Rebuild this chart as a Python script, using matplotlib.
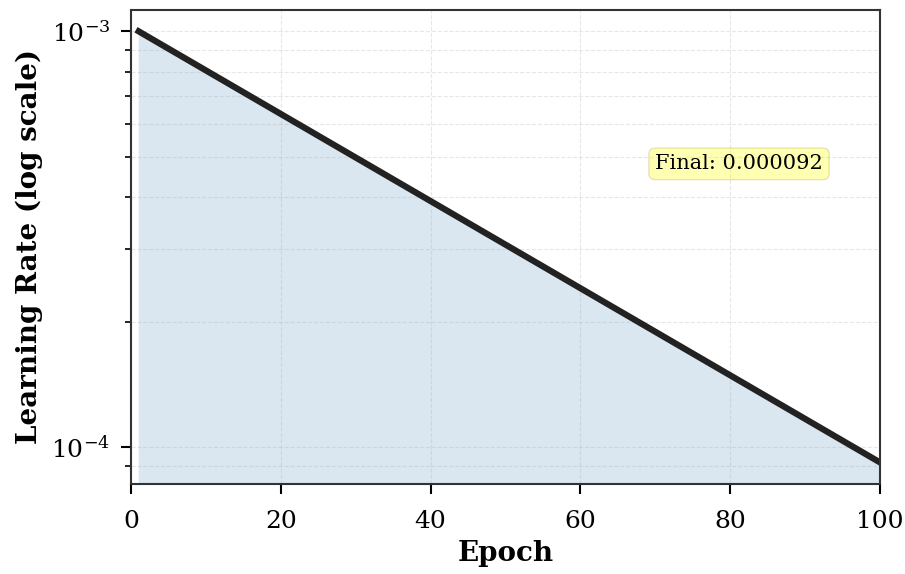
import matplotlib.pyplot as plt

plt.rcParams['font.family'] = 'DejaVu Serif'

epochs = [1, 100]
lr = [1e-3, 9.2e-5]
final_text = "Final: 0.000092"

fig = plt.figure(figsize=(9.05, 5.74), dpi=100)
ax = fig.add_axes([0.145, 0.157, 0.827, 0.826])

ax.plot(epochs, lr, color='#222222', linewidth=4.5)
ax.fill_between(epochs, lr, 1e-6, color='steelblue', alpha=0.2, linewidth=0)
ax.set_yscale('log')
ax.set_xlim(0, 100)
ax.set_ylim(8.16e-5, 1.127e-3)

ax.grid(True, which='both', linestyle='--', alpha=0.3)
ax.set_xlabel('Epoch', fontsize=20, fontweight='bold', labelpad=5)
ax.set_ylabel('Learning Rate (log scale)', fontsize=20, fontweight='bold', labelpad=6)
ax.tick_params(labelsize=18, width=1.5, length=7)
ax.tick_params(axis='x', pad=12)
ax.tick_params(axis='y', pad=8)
ax.tick_params(which='minor', width=1.2, length=4)
for s in ax.spines.values():
    s.set_linewidth(1.5)
    s.set_color('#333333')

ax.text(0.7, 0.695, final_text, transform=ax.transAxes, fontsize=15, va='top',
        bbox=dict(boxstyle='round', facecolor='yellow', alpha=0.3, edgecolor='#aaaa44'))

fig.savefig('out.png', dpi=100)
